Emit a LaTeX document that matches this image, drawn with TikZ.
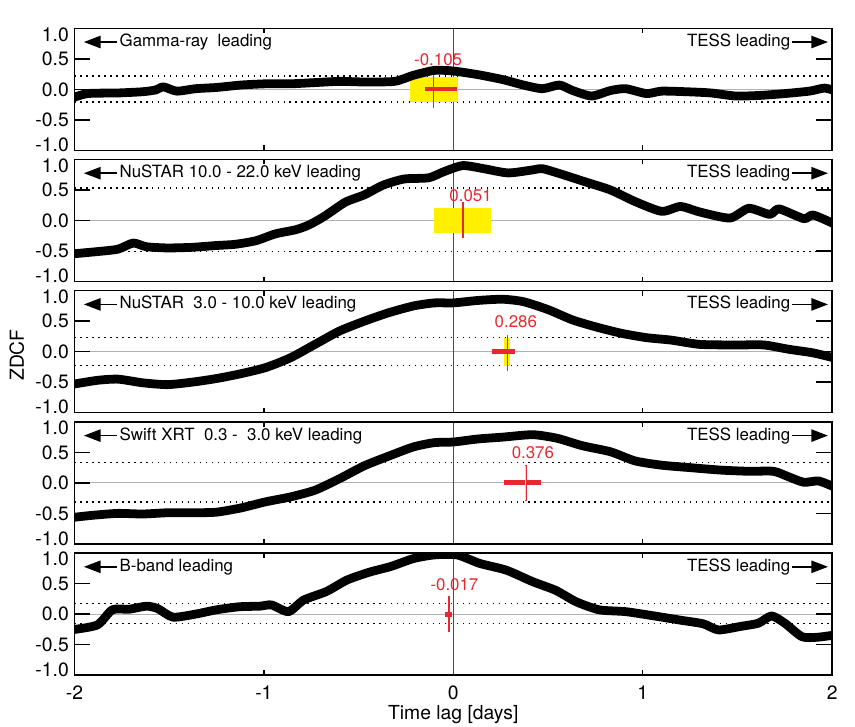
\documentclass[tikz,border=0pt]{standalone}
\usepackage{fontspec}
\setmainfont{TeX Gyre Heros}
\usetikzlibrary{arrows.meta}
\definecolor{errred}{RGB}{232,40,48}
\definecolor{erryellow}{RGB}{255,240,0}

\begin{document}
\begin{tikzpicture}[x=3.789cm, y=1.22cm,
  every node/.style={font=\fontsize{9.6}{11}\selectfont, inner sep=0pt},
  frame/.style={line width=0.8pt},
  zeroline/.style={gray!60, line width=0.5pt},
  siglevel/.style={line width=0.8pt, dash pattern=on 0.8pt off 2.6pt},
  zdcf/.style={line width=5pt, line join=round, line cap=round},
  errbar/.style={errred, line width=0.8pt},
  errbox/.style={fill=erryellow},
  lagtext/.style={errred, font=\fontsize{9.6}{11}\selectfont},
  ticklab/.style={font=\fontsize{11}{13}\selectfont},
  lead/.style={-{Triangle[length=9.5pt,width=7pt]}, line width=0.9pt}]

  \useasboundingbox (-2.3928,-10.4541) rectangle (2.1204,1.4639);

  % Zero lines and significance levels
  \foreach \i/\dtop/\dbot in {0/0.22/-0.21, 1/0.53/-0.51, 2/0.23/-0.23, 3/0.33/-0.31, 4/0.175/-0.155} {
    \begin{scope}[shift={(0,{-2.1508*\i})}]
      \draw[zeroline] (-2,0) -- (2,0);
      \draw[black!70, line width=0.4pt] (0,-1) -- (0,1);
      \draw[siglevel] (-2,\dtop) -- (2,\dtop);
      \draw[siglevel] (-2,\dbot) -- (2,\dbot);
    \end{scope}
  }

  % Gamma-ray
  \begin{scope}
    \clip (-2,-1) rectangle (2,1);
    \fill[errbox] (-0.23,-0.21) rectangle (0.026,0.20);
    \draw[zdcf] plot[smooth, tension=0.4] coordinates {(-2.02,-0.15) (-1.93,-0.07) (-1.77,-0.06) (-1.64,-0.04) (-1.57,-0.01) (-1.53,0.04) (-1.46,-0.03) (-1.36,0.01) (-1.25,0.03) (-1.12,0.07) (-0.99,0.09) (-0.86,0.09) (-0.73,0.11) (-0.60,0.13) (-0.47,0.12) (-0.31,0.13) (-0.21,0.23) (-0.10,0.31) (0,0.30) (0.13,0.24) (0.26,0.16) (0.37,0.07) (0.47,0.01) (0.56,0.07) (0.63,-0.02) (0.73,-0.11) (0.83,-0.02) (0.91,0.01) (1.02,-0.07) (1.10,-0.03) (1.23,-0.04) (1.36,-0.06) (1.49,-0.11) (1.62,-0.10) (1.75,-0.07) (1.88,-0.03) (1.96,0.02) (2.02,-0.03)};
    \draw[errred, line width=2.3pt] (-0.15,0) -- (0.02,0);
    \draw[errbar] (-0.105,0.23) -- (-0.105,-0.31);
  \end{scope}
  \node[lagtext] (lag0) at (-0.08,0.49) {-0.105};

  % NuSTAR hard
  \begin{scope}[shift={(0,-2.1508)}]
    \clip (-2,-1) rectangle (2,1);
    \fill[errbox] (-0.10,-0.20) rectangle (0.20,0.20);
    \draw[zdcf] plot[smooth, tension=0.4] coordinates {(-2.02,-0.55) (-1.88,-0.51) (-1.77,-0.47) (-1.69,-0.37) (-1.62,-0.43) (-1.51,-0.45) (-1.38,-0.44) (-1.25,-0.41) (-1.15,-0.39) (-1.04,-0.33) (-0.94,-0.22) (-0.83,-0.15) (-0.76,-0.07) (-0.68,0.07) (-0.57,0.30) (-0.47,0.42) (-0.37,0.58) (-0.26,0.68) (-0.13,0.70) (-0.05,0.80) (0.05,0.90) (0.16,0.85) (0.29,0.78) (0.42,0.83) (0.47,0.85) (0.57,0.76) (0.70,0.63) (0.83,0.50) (0.96,0.31) (1.10,0.15) (1.20,0.23) (1.30,0.14) (1.46,0.04) (1.56,0.20) (1.67,0.10) (1.72,0.19) (1.85,0.03) (1.90,0.09) (2.02,-0.07)};
    \draw[errred, line width=1.6pt] (0.045,0) -- (0.058,0);
    \draw[errbar] (0.051,0.30) -- (0.051,-0.29);
    \node[lagtext] (lag1) at (0.091,0.41) {0.051};
  \end{scope}

  % NuSTAR soft
  \begin{scope}[shift={(0,-4.3016)}]
    \clip (-2,-1) rectangle (2,1);
    \fill[errbox] (0.27,-0.23) rectangle (0.30,0.23);
    \draw[zdcf] plot[smooth, tension=0.4] coordinates {(-2.02,-0.54) (-1.88,-0.47) (-1.77,-0.45) (-1.64,-0.51) (-1.51,-0.54) (-1.38,-0.50) (-1.25,-0.44) (-1.12,-0.36) (-0.99,-0.26) (-0.86,-0.10) (-0.73,0.12) (-0.60,0.34) (-0.47,0.50) (-0.34,0.64) (-0.21,0.75) (-0.10,0.80) (0,0.80) (0.13,0.84) (0.26,0.86) (0.37,0.82) (0.50,0.69) (0.63,0.52) (0.76,0.40) (0.89,0.30) (1.02,0.23) (1.15,0.19) (1.30,0.12) (1.49,0.11) (1.64,0.11) (1.77,0.04) (1.90,-0.02) (2.02,-0.11)};
    \draw[errred, line width=2.8pt] (0.203,0) -- (0.326,0);
    \draw[errbar] (0.286,0.28) -- (0.286,-0.32);
    \node[lagtext] (lag2) at (0.33,0.50) {0.286};
  \end{scope}

  % Swift XRT
  \begin{scope}[shift={(0,-6.4524)}]
    \clip (-2,-1) rectangle (2,1);
    \draw[zdcf] plot[smooth, tension=0.4] coordinates {(-2.02,-0.57) (-1.90,-0.53) (-1.77,-0.50) (-1.64,-0.51) (-1.51,-0.49) (-1.38,-0.49) (-1.25,-0.48) (-1.12,-0.41) (-0.99,-0.31) (-0.86,-0.23) (-0.73,-0.12) (-0.60,0.07) (-0.47,0.28) (-0.34,0.44) (-0.21,0.59) (-0.10,0.66) (0,0.67) (0.13,0.72) (0.26,0.75) (0.42,0.79) (0.55,0.73) (0.68,0.61) (0.83,0.51) (0.96,0.36) (1.10,0.29) (1.25,0.25) (1.41,0.21) (1.56,0.19) (1.69,0.19) (1.77,0.10) (1.85,0.01) (1.93,0.03) (2.02,-0.08)};
    \draw[errred, line width=2.8pt] (0.266,0) -- (0.464,0);
    \draw[errbar] (0.383,0.29) -- (0.383,-0.30);
    \fill[errbox] (0.381,-0.28) rectangle (0.386,0.28);
    \node[lagtext] (lag3) at (0.42,0.50) {0.376};
  \end{scope}

  % B-band
  \begin{scope}[shift={(0,-8.6032)}]
    \clip (-2,-1) rectangle (2,1);
    \draw[zdcf] plot[smooth, tension=0.4] coordinates {(-2.02,-0.26) (-1.88,-0.18) (-1.80,0.07) (-1.71,0.08) (-1.62,0.13) (-1.56,0.09) (-1.48,-0.05) (-1.36,0) (-1.25,0.07) (-1.13,0.12) (-1.02,0.13) (-0.96,0.15) (-0.87,0.04) (-0.79,0.23) (-0.67,0.37) (-0.56,0.56) (-0.44,0.69) (-0.33,0.78) (-0.21,0.91) (-0.10,0.97) (0.02,0.97) (0.14,0.83) (0.28,0.72) (0.42,0.53) (0.54,0.39) (0.65,0.20) (0.77,0.07) (0.91,0.04) (1.06,-0.03) (1.20,-0.10) (1.32,-0.16) (1.40,-0.26) (1.52,-0.20) (1.61,-0.15) (1.68,-0.03) (1.75,-0.15) (1.84,-0.37) (1.92,-0.38) (2.02,-0.34)};
    \draw[errred, line width=2.8pt] (-0.046,0) -- (-0.009,0);
    \draw[errbar] (-0.023,0.30) -- (-0.023,-0.29);
    \node[lagtext] (lag4) at (0.006,0.49) {-0.017};
  \end{scope}

  % Frames, ticks and labels
  \foreach \i/\band in {0/{Gamma-ray\ \ leading}, 1/{NuSTAR 10.0 - 22.0 keV leading}, 2/{NuSTAR\ \ 3.0 - 10.0 keV leading}, 3/{Swift XRT\ \ 0.3 -\ \ 3.0 keV leading}, 4/{B-band leading}} {
    \begin{scope}[shift={(0,{-2.1508*\i})}]
      \foreach \t in {-0.5,0,0.5} {
        \draw[frame] (-2,\t) -- ++(0.083,0);
        \draw[frame] (2,\t) -- ++(-0.083,0);
      }
      \foreach \t in {-1,1} {
        \draw[frame] (\t,-1) -- ++(0,0.08);
        \draw[frame] (\t,1) -- ++(0,-0.08);
      }
      \draw[frame] (-2,-1) rectangle (2,1);
      \node[ticklab, anchor=east] (ya\i) at (-2.028,0.9) {1.0};
      \node[ticklab, anchor=east] (yb\i) at (-2.028,0.5) {0.5};
      \node[ticklab, anchor=east] (yc\i) at (-2.028,0) {0.0};
      \node[ticklab, anchor=east] (yd\i) at (-2.028,-0.5) {-0.5};
      \node[ticklab, anchor=east] (ye\i) at (-2.028,-0.91) {-1.0};
      % leading labels
      \node[anchor=west] (src\i) at (-1.763,0.775) {\band};
      \coordinate (sl\i) at (-1.95,0.775);
      \draw[lead, shorten <=1.5pt] (src\i) -- (sl\i);
      \node[anchor=east] (tess\i) at (1.780,0.775) {TESS leading};
      \coordinate (tr\i) at (1.978,0.775);
      \draw[lead, shorten <=1pt] (tess\i) -- (tr\i);
    \end{scope}
  }

  % Axis labels
  \foreach \x in {-2,-1,0,1,2}
    \node[ticklab, anchor=base] (xl\x) at (\x,-10.01) {\x};
  \node[font=\fontsize{11}{13}\selectfont, anchor=base] (xaxis) at (0,-10.33) {Time lag [days]};
  \node[font=\fontsize{11}{13}\selectfont, rotate=90] (yaxis) at (-2.3046,-4.356) {ZDCF};
\end{tikzpicture}
\end{document}
